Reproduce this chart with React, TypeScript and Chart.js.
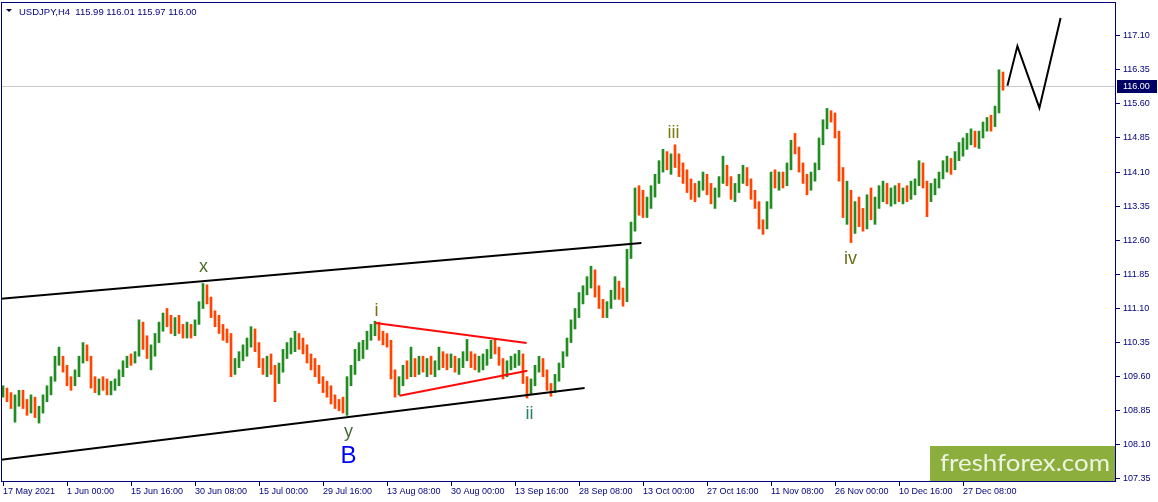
import React, { useEffect, useRef } from 'react';
import { Chart, registerables } from 'chart.js';
Chart.register(...registerables);

// ---- data (H4 USDJPY, aggregated candles) ----
const firstOpen = 109.25;
const highs = [
  109.40,109.35,109.25,109.20,109.30,109.30,109.10,109.20,109.15,108.95,
  109.20,109.40,109.60,110.05,110.25,110.05,109.85,109.60,109.75,110.05,
  110.35,110.30,110.05,109.60,109.55,109.60,109.55,109.50,109.55,109.75,
  109.95,110.05,110.10,110.15,110.85,110.80,110.50,110.30,110.55,110.80,
  111.00,111.10,110.95,110.90,110.95,110.75,110.80,110.75,110.85,111.25,
  111.65,111.62,111.35,111.05,110.95,110.75,110.65,110.55,110.00,110.15,
  110.30,110.45,110.70,110.65,110.35,110.00,110.05,110.10,109.85,109.90,
  110.20,110.35,110.45,110.60,110.55,110.45,110.30,110.10,110.00,109.85,
  109.60,109.50,109.40,109.20,109.10,109.15,109.60,109.85,110.20,110.35,
  110.40,110.60,110.75,110.82,110.80,110.60,110.55,110.40,109.75,109.60,
  109.85,109.95,110.25,110.00,110.05,110.05,110.00,110.05,109.95,110.25,
  110.15,110.10,110.10,110.05,110.00,110.15,110.42,110.15,110.10,110.05,
  110.10,110.20,110.40,110.42,110.25,110.00,109.95,110.05,110.10,110.18,
  110.10,109.60,109.55,109.85,110.05,110.00,109.75,109.45,109.65,109.90,
  110.15,110.45,110.85,111.10,111.45,111.60,111.80,112.03,111.95,111.60,
  111.30,111.25,111.50,111.80,111.70,111.55,112.40,113.00,113.75,113.80,
  113.70,113.55,113.80,114.05,114.35,114.60,114.55,114.50,114.70,114.50,
  114.30,114.15,113.95,113.85,113.90,114.10,114.05,113.85,113.75,114.00,
  114.45,114.25,114.00,113.85,114.05,114.25,114.20,113.95,113.70,113.45,
  113.05,113.45,114.10,114.15,114.10,114.10,114.30,114.80,114.95,114.65,
  114.30,114.05,114.10,114.30,114.85,115.25,115.50,115.45,115.40,115.00,
  114.20,113.90,113.70,113.45,113.55,113.30,113.60,113.75,113.55,113.80,
  113.90,113.85,113.75,113.80,113.85,113.75,113.80,113.90,113.95,114.35,
  114.30,113.90,113.85,113.95,114.10,114.35,114.45,114.40,114.55,114.75,
  114.85,114.95,115.05,115.00,115.00,115.20,115.30,115.35,115.55,116.35,
  116.30,
];
const lows = [
  109.15,109.05,108.90,108.60,108.95,108.90,108.75,108.80,108.70,108.58,
  108.80,109.05,109.20,109.50,109.85,109.70,109.40,109.30,109.40,109.60,
  109.90,109.95,109.35,109.25,109.20,109.30,109.20,109.20,109.30,109.40,
  109.60,109.80,109.85,109.90,110.05,110.20,110.00,109.75,110.05,110.35,
  110.60,110.70,110.55,110.50,110.55,110.45,110.45,110.45,110.50,110.75,
  111.10,111.20,110.90,110.70,110.55,110.40,110.35,109.60,109.65,109.80,
  109.95,110.05,110.25,110.15,109.80,109.65,109.60,109.65,109.05,109.45,
  109.70,110.00,110.10,110.15,110.20,110.10,109.90,109.75,109.60,109.45,
  109.25,109.15,109.00,108.90,108.85,108.80,108.75,109.40,109.65,109.95,
  110.00,110.20,110.40,110.50,110.40,110.30,110.25,109.55,109.15,109.20,
  109.40,109.55,109.60,109.60,109.65,109.70,109.60,109.65,109.60,109.75,
  109.80,109.75,109.80,109.70,109.65,109.80,109.95,109.80,109.75,109.70,
  109.75,109.85,110.00,110.10,109.85,109.55,109.60,109.75,109.80,109.85,
  109.45,109.13,109.20,109.40,109.70,109.60,109.30,109.17,109.25,109.50,
  109.80,110.05,110.35,110.65,110.90,111.20,111.40,111.55,111.35,111.10,
  110.90,110.90,111.10,111.30,111.30,111.15,111.25,112.20,112.80,113.15,
  113.10,113.10,113.30,113.55,113.85,114.10,114.15,114.05,114.20,114.00,
  113.85,113.65,113.50,113.45,113.55,113.70,113.60,113.40,113.30,113.55,
  113.85,113.80,113.50,113.45,113.65,113.85,113.80,113.50,113.30,112.85,
  112.73,112.85,113.30,113.75,113.70,113.75,113.80,114.15,114.50,114.10,
  113.85,113.60,113.70,113.90,114.15,114.70,115.05,115.20,114.85,113.90,
  113.10,112.95,112.55,112.75,112.90,112.80,112.85,113.05,112.95,113.30,
  113.45,113.40,113.35,113.40,113.45,113.40,113.45,113.50,113.60,113.80,
  113.75,113.12,113.45,113.60,113.75,113.95,114.10,114.05,114.15,114.35,
  114.45,114.60,114.70,114.65,114.62,114.85,115.00,115.00,115.10,115.40,
  115.90,
];
const closes = [
  109.30,109.12,108.98,109.10,109.22,108.95,108.85,109.05,108.80,108.85,
  109.10,109.30,109.55,109.95,110.00,109.80,109.50,109.45,109.70,109.95,
  110.20,110.05,109.45,109.35,109.45,109.40,109.30,109.40,109.50,109.70,
  109.90,110.00,109.95,110.10,110.70,110.35,110.10,110.15,110.45,110.70,
  110.90,110.85,110.65,110.75,110.60,110.55,110.70,110.55,110.80,111.15,
  111.55,111.30,111.00,110.80,110.65,110.50,110.45,109.75,109.90,110.05,
  110.20,110.35,110.60,110.25,109.90,109.80,109.95,109.75,109.55,109.80,
  110.10,110.25,110.30,110.50,110.30,110.20,110.00,109.85,109.70,109.50,
  109.35,109.30,109.10,109.00,108.95,108.90,109.50,109.75,110.10,110.20,
  110.25,110.50,110.65,110.75,110.45,110.40,110.35,109.70,109.35,109.50,
  109.75,109.70,109.85,109.80,109.95,109.80,109.90,109.75,109.85,110.05,
  109.95,109.90,110.00,109.80,109.90,110.05,110.12,109.95,109.85,109.90,
  109.95,110.10,110.30,110.20,109.95,109.70,109.85,109.95,110.00,110.05,
  109.55,109.30,109.45,109.75,109.95,109.70,109.40,109.30,109.55,109.85,
  110.10,110.40,110.75,110.95,111.35,111.50,111.65,111.90,111.45,111.20,
  111.00,111.15,111.40,111.65,111.40,111.30,112.30,112.85,113.60,113.40,
  113.25,113.45,113.70,113.95,114.25,114.50,114.25,114.40,114.35,114.10,
  113.95,113.80,113.70,113.60,113.80,114.00,113.70,113.55,113.65,113.90,
  114.20,113.90,113.60,113.75,113.95,114.15,113.90,113.60,113.40,112.95,
  112.90,113.35,113.95,113.90,114.00,113.85,114.20,114.65,114.60,114.20,
  113.95,113.75,114.00,114.20,114.75,115.15,115.40,115.35,114.95,114.05,
  113.35,113.60,112.85,113.25,113.10,112.95,113.45,113.20,113.40,113.65,
  113.75,113.55,113.60,113.70,113.55,113.65,113.60,113.80,113.85,114.25,
  113.85,113.55,113.75,113.85,114.00,114.25,114.35,114.20,114.45,114.65,
  114.75,114.85,114.90,114.80,114.95,115.10,115.20,115.15,115.45,116.20,
  116.00,
];

const titleSymbol = 'USDJPY,H4';
const titleOHLC = [115.99, 116.01, 115.97, 116.0];

const timeTickIndex = [0, 16, 32, 48, 64, 80, 96, 112, 128, 144, 160, 176, 192, 208, 224, 240];
const timeTickLabels = [
  '17 May 2021', '1 Jun 00:00', '15 Jun 16:00', '30 Jun 08:00', '15 Jul 00:00',
  '29 Jul 16:00', '13 Aug 08:00', '30 Aug 00:00', '13 Sep 16:00', '28 Sep 08:00',
  '13 Oct 00:00', '27 Oct 16:00', '11 Nov 08:00', '26 Nov 00:00', '10 Dec 16:00',
  '27 Dec 08:00',
];
const priceTicks = [107.35, 108.1, 108.85, 109.6, 110.35, 111.1, 111.85, 112.6, 113.35, 114.1, 114.85, 115.6, 116.35, 117.1];

// trend lines (candle index, price)
const upperChannel = [{ x: -0.875, y: 111.31 }, { x: 159.6, y: 112.54 }];
const lowerChannel = [{ x: -0.875, y: 107.77 }, { x: 145.4, y: 109.35 }];
const triangleTop = [{ x: 93.1, y: 110.78 }, { x: 130.9, y: 110.34 }];
const triangleBottom = [{ x: 99.1, y: 109.18 }, { x: 131.1, y: 109.73 }];
const projection = [
  { x: 251.1, y: 116.0 },
  { x: 253.6, y: 116.87 },
  { x: 259.1, y: 115.51 },
  { x: 264.4, y: 117.49 },
];

const waveLabels = [
  { text: 'x', x: 50.1, y: 111.9, color: '#4a7023', size: 18 },
  { text: 'y', x: 86.4, y: 108.27, color: '#456b35', size: 18 },
  { text: 'B', x: 86.4, y: 107.7, color: '#0000ff', size: 24 },
  { text: 'i', x: 93.4, y: 110.94, color: '#7a6c12', size: 18 },
  { text: 'ii', x: 131.6, y: 108.67, color: '#2a8066', size: 18 },
  { text: 'iii', x: 167.6, y: 114.85, color: '#7f7a12', size: 18 },
  { text: 'iv', x: 211.9, y: 112.08, color: '#6b6e18', size: 18 },
];

const UP = '#228b22';
const DOWN = '#ff4500';
const NAVY = '#00007f';
const FONT = 'Liberation Sans';

export default function App() {
  const ref = useRef<HTMLCanvasElement>(null);

  useEffect(() => {
    const canvas = ref.current;
    if (!canvas) return;
    const opens = closes.map((c, i) => (i === 0 ? firstOpen : closes[i - 1]));
    const colors = closes.map((c, i) => (c > opens[i] ? UP : c < opens[i] ? DOWN : '#000000'));
    const lastPrice = closes[closes.length - 1];

    const overlay = {
      id: 'overlay',
      beforeDatasetsDraw(chart: any) {
        const { ctx, chartArea: a, scales } = chart;
        const y = Math.round(scales.y.getPixelForValue(lastPrice)) + 0.5;
        ctx.save();
        ctx.strokeStyle = '#c8c8c8';
        ctx.lineWidth = 1;
        ctx.beginPath();
        ctx.moveTo(a.left, y);
        ctx.lineTo(a.right, y);
        ctx.stroke();
        ctx.restore();
      },
      afterDraw(chart: any) {
        const { ctx, chartArea: a, scales } = chart;
        const xs = scales.x;
        const ys = scales.y;
        ctx.save();
        // wave labels
        ctx.textAlign = 'center';
        ctx.textBaseline = 'alphabetic';
        waveLabels.forEach((l) => {
          ctx.font = `${l.size}px "${FONT}"`;
          ctx.fillStyle = l.color;
          ctx.fillText(l.text, xs.getPixelForValue(l.x), ys.getPixelForValue(l.y));
        });
        // title
        ctx.fillStyle = '#000040';
        ctx.beginPath();
        ctx.moveTo(6, 9);
        ctx.lineTo(12, 9);
        ctx.lineTo(9, 12);
        ctx.closePath();
        ctx.fill();
        ctx.font = `9.5px "${FONT}"`;
        ctx.textAlign = 'left';
        ctx.fillStyle = NAVY;
        ctx.fillText(`${titleSymbol}  ${titleOHLC.map((v) => v.toFixed(2)).join(' ')}`, 19, 15);
        // watermark
        const wmW = 186, wmH = 35;
        ctx.fillStyle = '#8cae3c';
        ctx.fillRect(a.right - wmW, a.bottom - wmH, wmW, wmH);
        ctx.font = `23px Lato`;
        ctx.fillStyle = '#eef4e2';
        const txt = 'freshforex.com';
        const tw = ctx.measureText(txt).width;
        ctx.save();
        ctx.translate(a.right - wmW + 10, a.bottom - 10);
        ctx.scale(170 / tw, 1);
        ctx.fillText(txt, 0, 0);
        ctx.restore();
        // frame
        ctx.strokeStyle = NAVY;
        ctx.lineWidth = 1;
        ctx.strokeRect(a.left + 0.5, a.top + 0.5, a.right - a.left - 1, a.bottom - a.top);
        // current price box
        const py = Math.round(ys.getPixelForValue(lastPrice));
        ctx.fillStyle = '#000066';
        ctx.fillRect(a.right + 1, py - 6, 40, 13);
        ctx.fillStyle = '#ffffff';
        ctx.font = `9px "${FONT}"`;
        ctx.textBaseline = 'middle';
        ctx.fillText(lastPrice.toFixed(2), a.right + 7, py + 0.5);
        ctx.restore();
      },
    };

    const lineDs = (data: any[], color: string) => ({
      type: 'line' as const,
      data,
      borderColor: color,
      borderWidth: 2,
      pointRadius: 0,
      fill: false,
      tension: 0,
      order: 1,
    });

    const chart = new Chart(canvas, {
      type: 'bar',
      data: {
        datasets: [
          {
            type: 'bar',
            data: closes.map((c, i) => ({ x: i, y: [lows[i], highs[i]] })) as any,
            backgroundColor: colors,
            borderWidth: 0,
            barThickness: 2,
            order: 5,
          },
          lineDs(upperChannel, '#000000'),
          lineDs(lowerChannel, '#000000'),
          lineDs(triangleTop, '#ff0a0a'),
          lineDs(triangleBottom, '#ff0a0a'),
          lineDs(projection, '#000000'),
        ] as any,
      },
      options: {
        responsive: false,
        animation: false,
        devicePixelRatio: 1,
        events: [],
        layout: { padding: { left: 1, top: 2, right: 0, bottom: 0 } },
        plugins: { legend: { display: false }, tooltip: { enabled: false } },
        scales: {
          x: {
            type: 'linear',
            min: -0.5,
            max: 278.25,
            offset: false,
            grid: { drawOnChartArea: false, offset: false, tickLength: 5, color: NAVY, tickColor: NAVY },
            border: { display: false },
            ticks: {
              autoSkip: false,
              maxRotation: 0,
              minRotation: 0,
              align: 'start',
              padding: 0,
              color: NAVY,
              font: { family: FONT, size: 9 },
              callback: (_v: any, i: number) => timeTickLabels[i],
            },
            afterBuildTicks: (s: any) => {
              s.ticks = timeTickIndex.map((v) => ({ value: v }));
            },
            afterFit: (s: any) => {
              s.height = 21;
              s.paddingLeft = 0;
              s.paddingRight = 0;
            },
          },
          y: {
            type: 'linear',
            position: 'right',
            min: 107.306,
            max: 117.84,
            grid: { drawOnChartArea: false, tickLength: 4, color: NAVY, tickColor: NAVY },
            border: { display: false },
            ticks: {
              padding: 3,
              color: NAVY,
              font: { family: FONT, size: 9 },
              callback: (v: any) => Number(v).toFixed(2),
            },
            afterBuildTicks: (s: any) => {
              s.ticks = priceTicks.map((v) => ({ value: v }));
            },
            afterFit: (s: any) => {
              s.width = 42;
              s.paddingTop = 0;
              s.paddingBottom = 0;
            },
          },
        },
      } as any,
      plugins: [overlay],
    });
    return () => chart.destroy();
  }, []);

  return (
    <div style={{ position: 'fixed', left: 0, top: 0, width: 1158, height: 502, background: '#ffffff' }}>
      <canvas ref={ref} width={1158} height={502} style={{ display: 'block', width: 1158, height: 502 }} />
    </div>
  );
}
